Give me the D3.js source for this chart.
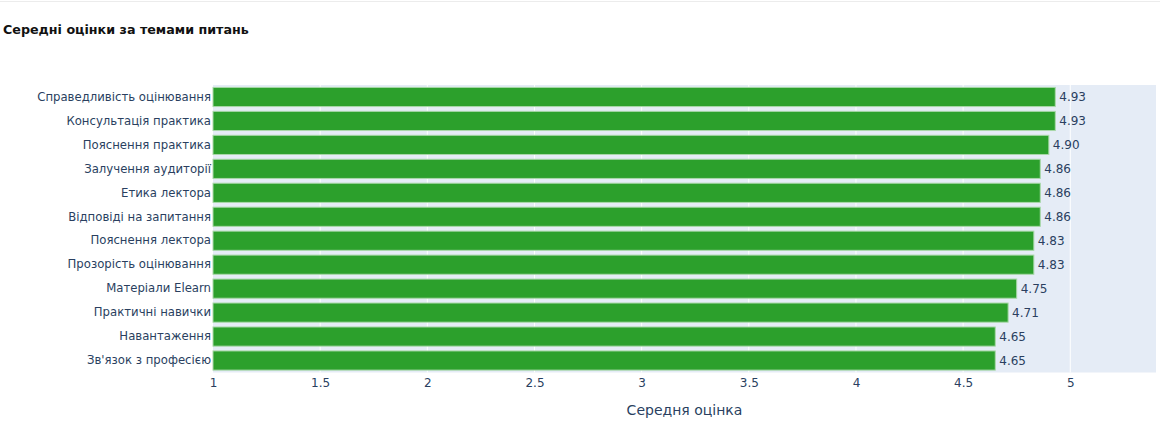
<!DOCTYPE html>
<html>
<head>
<meta charset="utf-8">
<script src="https://cdn.jsdelivr.net/npm/d3@7"></script>
<style>
  body { margin: 0; background: #fff; }
  svg { display: block; font-family: "DejaVu Sans", Verdana, sans-serif; }
</style>
</head>
<body>
<div id="chart"></div>
<script>
const topics = [
  "Справедливість оцінювання",
  "Консультація практика",
  "Пояснення практика",
  "Залучення аудиторії",
  "Етика лектора",
  "Відповіді на запитання",
  "Пояснення лектора",
  "Прозорість оцінювання",
  "Матеріали Elearn",
  "Практичні навички",
  "Навантаження",
  "Зв'язок з професією"
];
const scores = [4.93, 4.93, 4.90, 4.86, 4.86, 4.86, 4.83, 4.83, 4.75, 4.71, 4.65, 4.65];
const xTicks = [1, 1.5, 2, 2.5, 3, 3.5, 4, 4.5, 5];

const W = 1160, H = 425;
const margin = {top: 85, right: 4, bottom: 52.5, left: 213};
const width = W - margin.left - margin.right,
      height = H - margin.top - margin.bottom;

const data = topics.map((t, i) => ({topic: t, score: scores[i]}));

const svg = d3.select("#chart").append("svg")
  .attr("width", W)
  .attr("height", H);

// thin line at the very top
svg.append("line")
  .attr("x1", 0).attr("x2", W)
  .attr("y1", 1.5).attr("y2", 1.5)
  .attr("stroke", "#ececec");

svg.append("text")
  .attr("x", 3)
  .attr("y", 34)
  .attr("font-size", 12.7)
  .attr("font-weight", "bold")
  .attr("fill", "#111")
  .text("Середні оцінки за темами питань");

const g = svg.append("g")
  .attr("transform", `translate(${margin.left},${margin.top})`);

const x = d3.scaleLinear().domain([1, 5.4]).range([0, width]);
const y = d3.scaleBand().domain(topics).range([0, height]).paddingInner(0.2).paddingOuter(0.1);

g.append("rect")
  .attr("width", width)
  .attr("height", height)
  .attr("fill", "#e5ecf6");

// vertical grid
g.append("g")
  .selectAll("line")
  .data(xTicks.slice(1))
  .join("line")
  .attr("x1", d => x(d)).attr("x2", d => x(d))
  .attr("y1", 0).attr("y2", height)
  .attr("stroke", "#fff")
  .attr("stroke-width", 1);

// bars
g.append("g")
  .selectAll("rect")
  .data(data)
  .join("rect")
  .attr("x", x(1))
  .attr("y", d => y(d.topic))
  .attr("width", d => x(d.score) - x(1))
  .attr("height", y.bandwidth())
  .attr("fill", "#2ca02c")
  .attr("stroke", "#a9d8a9")
  .attr("stroke-width", 1);

// value labels
g.append("g")
  .selectAll("text")
  .data(data)
  .join("text")
  .attr("x", d => x(d.score) + 4)
  .attr("y", d => y(d.topic) + y.bandwidth() / 2)
  .attr("dy", "0.36em")
  .attr("font-size", 12)
  .attr("fill", "#2a3f5f")
  .text(d => d.score.toFixed(2));

// y axis
const yAxis = g.append("g")
  .call(d3.axisLeft(y).tickSize(0).tickPadding(2));
yAxis.select(".domain").remove();
yAxis.selectAll("text")
  .attr("font-size", 11.7)
  .attr("font-family", "DejaVu Sans, Verdana, sans-serif")
  .attr("fill", "#2a3f5f");

// x axis
const xAxis = g.append("g")
  .attr("transform", `translate(0,${height})`)
  .call(d3.axisBottom(x).tickValues(xTicks).tickFormat(d3.format("")).tickSize(0).tickPadding(6));
xAxis.select(".domain").remove();
xAxis.selectAll("text")
  .attr("font-size", 12)
  .attr("font-family", "DejaVu Sans, Verdana, sans-serif")
  .attr("fill", "#2a3f5f");

svg.append("text")
  .attr("x", margin.left + width / 2)
  .attr("y", 415)
  .attr("text-anchor", "middle")
  .attr("font-size", 14)
  .attr("fill", "#2a3f5f")
  .text("Середня оцінка");
</script>
</body>
</html>
